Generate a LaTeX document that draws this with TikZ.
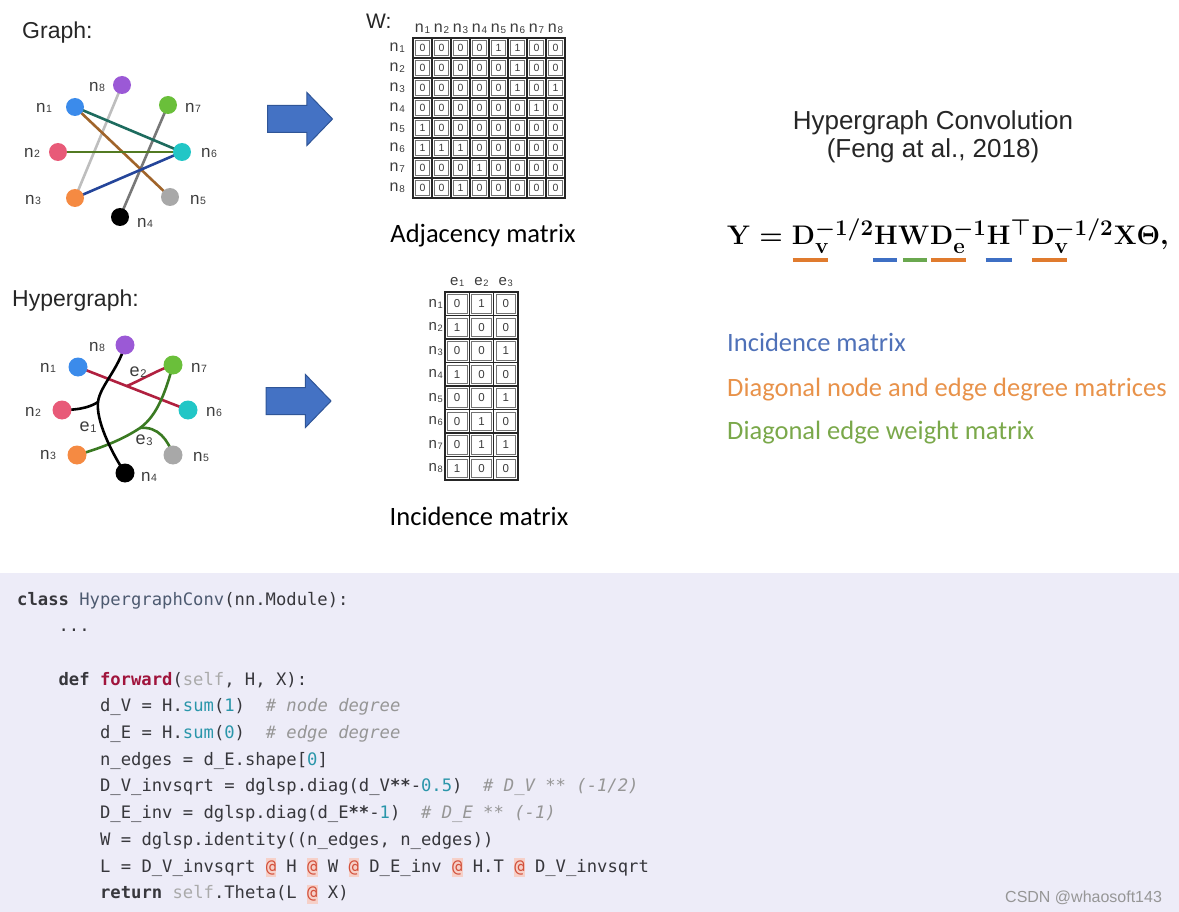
\documentclass[tikz,border=0pt]{standalone}
\usepackage[no-math]{fontspec}
\setmainfont{Liberation Sans}
\newfontfamily\calfont{Carlito}
\newfontfamily\codefont{DejaVu Sans Mono}
\usetikzlibrary{shapes.arrows,backgrounds}
\definecolor{codebg}{RGB}{237,236,248}
\definecolor{c1}{RGB}{59,139,235}
\definecolor{c2}{RGB}{232,90,120}
\definecolor{c3}{RGB}{245,138,66}
\definecolor{c4}{RGB}{0,0,0}
\definecolor{c5}{RGB}{168,168,168}
\definecolor{c6}{RGB}{34,198,198}
\definecolor{c7}{RGB}{106,191,58}
\definecolor{c8}{RGB}{155,89,214}
\definecolor{labgray}{RGB}{60,60,60}
\definecolor{eteal}{RGB}{29,107,94}
\definecolor{ebrown}{RGB}{160,100,42}
\definecolor{eolive}{RGB}{82,122,34}
\definecolor{eblue}{RGB}{36,69,154}
\definecolor{elight}{RGB}{190,190,190}
\definecolor{egray}{RGB}{120,120,120}
\definecolor{ered}{RGB}{176,32,63}
\definecolor{egreen}{RGB}{58,122,34}
\definecolor{arfill}{RGB}{68,114,196}
\definecolor{ardraw}{RGB}{47,85,151}
\definecolor{txblue}{RGB}{79,113,184}
\definecolor{txorange}{RGB}{232,146,74}
\definecolor{txgreen}{RGB}{122,168,74}
\definecolor{ulorange}{RGB}{224,123,46}
\definecolor{ulblue}{RGB}{62,111,196}
\definecolor{ulgreen}{RGB}{106,168,79}
\definecolor{codetx}{RGB}{55,55,60}
\definecolor{clsc}{RGB}{77,90,112}
\definecolor{fnc}{RGB}{160,20,60}
\definecolor{slfc}{RGB}{170,170,170}
\definecolor{tlc}{RGB}{42,150,170}
\definecolor{cmc}{RGB}{150,150,150}
\definecolor{atbg}{RGB}{246,208,200}
\definecolor{atfg}{RGB}{210,80,60}
\definecolor{wmc}{RGB}{150,150,150}
\newcommand\nsub[2]{#1\kern0.04em\raisebox{-0.04em}{\scalebox{0.62}{#2}}}
\newcommand\athl{{\setlength{\fboxsep}{0pt}\colorbox{atbg}{\rule[-0.28em]{0pt}{1.08em}\textcolor{atfg}{@}}}}
\newcommand\fmx[1]{\scalebox{1.08}{$#1$}}
\begin{document}
\begin{tikzpicture}[x=1pt,y=-1pt,
  gn/.style={circle,minimum size=18pt,inner sep=0pt,fill=#1},
  hn/.style={circle,minimum size=19pt,inner sep=0pt,fill=#1},
  nlab/.style={font=\fontsize{17}{18}\selectfont,text=labgray,inner sep=0pt},
  elab/.style={font=\fontsize{18}{19}\selectfont,text=labgray,inner sep=0pt},
  gedge/.style={line width=2.6pt,draw=#1},
  hedge/.style={line width=2.6pt,draw=#1},
  barrow/.style={single arrow,fill=arfill,draw=ardraw,line width=1pt,minimum height=65pt,minimum width=52pt,single arrow head extend=13pt,single arrow tip angle=92,inner xsep=0pt,inner ysep=13pt},
  cellA/.style={draw=black!85,line width=1.4pt,minimum width=19pt,minimum height=20pt,inner sep=0pt,font=\fontsize{10.5}{11}\selectfont,text=labgray,
    path picture={\draw[line width=0.5pt,black!55] ([shift={(2.4pt,-2.4pt)}]path picture bounding box.north west) rectangle ([shift={(-2.4pt,2.4pt)}]path picture bounding box.south east);}},
  cellB/.style={cellA,minimum width=24.3pt,minimum height=23.5pt,font=\fontsize{11.5}{12}\selectfont},
  mlab/.style={font=\fontsize{16}{17}\selectfont,text=labgray,inner sep=0pt},
  slab/.style={font=\fontsize{15}{16}\selectfont,text=labgray,inner sep=0pt},
  captxt/.style={font=\calfont\fontsize{26.5}{30}\selectfont,inner sep=0pt,anchor=base},
  coltxt/.style={font=\calfont\fontsize{26.5}{30}\selectfont,inner sep=0pt,anchor=base west,text=#1},
  fm/.style={inner sep=0pt,anchor=base west,font=\fontsize{24.88}{30}\selectfont\boldmath},
  ul/.style={line width=3.5pt,draw=#1},
  code/.style={font=\codefont\fontsize{17.2}{20}\selectfont,text=codetx,inner sep=0pt,anchor=base west}
]
\useasboundingbox (0,0) rectangle (1179,912);

% ---------- headings ----------
\node[font=\fontsize{23}{26}\selectfont,text=black!85,inner sep=0pt,anchor=base west] (tgraph) at (22,39) {Graph:};
\node[font=\fontsize{23}{26}\selectfont,text=black!85,inner sep=0pt,anchor=base west] (thyper) at (12,307) {Hypergraph:};

% ---------- graph ----------
\node[gn=c8] (g8) at (122,85) {};
\node[gn=c1] (g1) at (75,107) {};
\node[gn=c7] (g7) at (168,105) {};
\node[gn=c2] (g2) at (58,152) {};
\node[gn=c6] (g6) at (182,152) {};
\node[gn=c3] (g3) at (75,198) {};
\node[gn=c5] (g5) at (170,197) {};
\node[gn=c4] (g4) at (120,217) {};
\node[nlab] (lg8) at (97,87) {\nsub{n}{8}};
\node[nlab] (lg1) at (44,108) {\nsub{n}{1}};
\node[nlab] (lg7) at (193,108) {\nsub{n}{7}};
\node[nlab] (lg2) at (32,153) {\nsub{n}{2}};
\node[nlab] (lg6) at (209,153) {\nsub{n}{6}};
\node[nlab] (lg3) at (33,200) {\nsub{n}{3}};
\node[nlab] (lg5) at (198,200) {\nsub{n}{5}};
\node[nlab] (lg4) at (145,223) {\nsub{n}{4}};

% ---------- hypergraph ----------
\node[hn=c8] (h8) at (125,345) {};
\node[hn=c1] (h1) at (78,367) {};
\node[hn=c7] (h7) at (173,365) {};
\node[hn=c2] (h2) at (62,410) {};
\node[hn=c6] (h6) at (188,410) {};
\node[hn=c3] (h3) at (77,455) {};
\node[hn=c5] (h5) at (173,455) {};
\node[hn=c4] (h4) at (125,473) {};
\node[nlab] (lh8) at (97,347) {\nsub{n}{8}};
\node[nlab] (lh1) at (48,368) {\nsub{n}{1}};
\node[nlab] (lh7) at (199,368) {\nsub{n}{7}};
\node[nlab] (lh2) at (33,412) {\nsub{n}{2}};
\node[nlab] (lh6) at (214,412) {\nsub{n}{6}};
\node[nlab] (lh3) at (48,455) {\nsub{n}{3}};
\node[nlab] (lh5) at (201,457) {\nsub{n}{5}};
\node[nlab] (lh4) at (149,477) {\nsub{n}{4}};
\node[elab] (le2) at (138,372) {\nsub{e}{2}};
\node[elab] (le1) at (88,427) {\nsub{e}{1}};
\node[elab] (le3) at (144,440) {\nsub{e}{3}};
\coordinate (J1) at (98,402);
\coordinate (J2) at (127,386);
\coordinate (J3) at (140,428);

\begin{scope}[on background layer]
  \fill[codebg] (0,573) rectangle (1179,912);
  % graph edges
  \draw[gedge=elight] (g8.center) -- (g3.center);
  \draw[gedge=egray] (g7.center) -- (g4.center);
  \draw[gedge=eteal] (g1.center) -- (g6.center);
  \draw[gedge=ebrown] (g1.center) -- (g5.center);
  \draw[gedge=eolive] (g2.center) -- (g6.center);
  \draw[gedge=eblue] (g3.center) -- (g6.center);
  % hyperedges
  \draw[hedge=ered] (h1.center) -- (h6.center);
  \draw[hedge=ered] (J2) .. controls (145,378) and (158,370) .. (h7.center);
  \draw[hedge=egreen] (h3.center) .. controls (105,447) and (125,438) .. (J3) .. controls (158,415) and (166,390) .. (h7.center);
  \draw[hedge=egreen] (J3) .. controls (158,426) and (168,440) .. (h5.center);
  \draw[hedge=black] (h8.center) .. controls (118,370) and (100,386) .. (J1) .. controls (96,420) and (110,450) .. (h4.center);
  \draw[hedge=black] (h2.center) .. controls (82,410) and (92,406) .. (J1);
\end{scope}

% ---------- arrows ----------
\node[barrow] (ar1) at (293.5,119) {};
\node[barrow] (ar2) at (292,401) {};

% ---------- adjacency matrix ----------
\node[font=\fontsize{21}{23}\selectfont,text=black!85,inner sep=0pt,anchor=base west] (wlab) at (366,29) {W:};
\foreach \i in {1,...,8} {
  \node[mlab,anchor=base] (ah\i) at ({413+19*(\i-0.5)},33) {\nsub{n}{\i}};
  \node[mlab,anchor=east] (ar\i) at (405,{38+20*(\i-0.5)}) {\nsub{n}{\i}};
}
\foreach \row [count=\r] in {{0,0,0,0,1,1,0,0},{0,0,0,0,0,1,0,0},{0,0,0,0,0,1,0,1},{0,0,0,0,0,0,1,0},{1,0,0,0,0,0,0,0},{1,1,1,0,0,0,0,0},{0,0,0,1,0,0,0,0},{0,0,1,0,0,0,0,0}} {
  \foreach \v [count=\c] in \row {
    \node[cellA] (a-\r-\c) at ({413+19*(\c-0.5)},{38+20*(\r-0.5)}) {\v};
  }
}
\node[captxt] (adjcap) at (483,243) {Adjacency matrix};

% ---------- incidence matrix ----------
\foreach \i in {1,2,3} {
  \node[slab,anchor=base] (ih\i) at ({445+24.3*(\i-0.5)},286) {\nsub{e}{\i}};
}
\foreach \i in {1,...,8} {
  \node[slab,anchor=east] (ir\i) at (443,{292+23.5*(\i-0.5)}) {\nsub{n}{\i}};
}
\foreach \row [count=\r] in {{0,1,0},{1,0,0},{0,0,1},{1,0,0},{0,0,1},{0,1,0},{0,1,1},{1,0,0}} {
  \foreach \v [count=\c] in \row {
    \node[cellB] (b-\r-\c) at ({445+24.3*(\c-0.5)},{292+23.5*(\r-0.5)}) {\v};
  }
}
\node[captxt] (inccap) at (479,525) {Incidence matrix};

% ---------- right side ----------
\node[font=\fontsize{26}{30}\selectfont,text=black!85,inner sep=0pt,anchor=base] (t1) at (933,130) {Hypergraph Convolution};
\node[font=\fontsize{26}{30}\selectfont,text=black!85,inner sep=0pt,anchor=base] (t2) at (933,158) {(Feng at al., 2018)};

\node[fm] (fY) at (727,245) {\fmx{\mathbf{Y}={}}};
\node[fm] (fD1) at (fY.base east) {\fmx{\mathbf{D}_{\mathbf{v}}^{-1/2}}};
\node[fm] (fH1) at (fD1.base east) {\fmx{\mathbf{H}}};
\node[fm] (fW) at (fH1.base east) {\fmx{\mathbf{W}}};
\node[fm] (fD2) at (fW.base east) {\fmx{\mathbf{D}_{\mathbf{e}}^{-1}}};
\node[fm] (fH2) at (fD2.base east) {\fmx{\mathbf{H}^{\top}}};
\node[fm] (fD3) at (fH2.base east) {\fmx{\mathbf{D}_{\mathbf{v}}^{-1/2}}};
\node[fm] (fX) at (fD3.base east) {\fmx{\mathbf{X}\mathbf{\Theta},}};
\coordinate (uly) at (0,260);
\draw[ul=ulorange] ([xshift=1pt]fD1.base west |- uly) -- ++(35,0);
\draw[ul=ulblue] ([xshift=-13pt]fH1.base |- uly) -- ++(24,0);
\draw[ul=ulgreen] ([xshift=-11pt]fW.base |- uly) -- ++(24,0);
\draw[ul=ulorange] ([xshift=1pt]fD2.base west |- uly) -- ++(35,0);
\draw[ul=ulblue] ([xshift=-1pt]fH2.base west |- uly) -- ++(26,0);
\draw[ul=ulorange] ([xshift=1pt]fD3.base west |- uly) -- ++(35,0);

\node[coltxt=txblue] (k1) at (727,352) {Incidence matrix};
\node[coltxt=txorange] (k2) at (727,396) {Diagonal node and edge degree matrices};
\node[coltxt=txgreen] (k3) at (727,439) {Diagonal edge weight matrix};

% ---------- code ----------
\node[code] (l1) at (17,605) {\textbf{class} \textcolor{clsc}{HypergraphConv}(nn.Module):};
\node[code] (l2) at (58.4,631.7) {...};
\node[code] (l4) at (58.4,685.1) {\textbf{def} \textcolor{fnc}{\textbf{forward}}(\textcolor{slfc}{self}, H, X):};
\node[code] (l5) at (99.9,711.8) {d\_V = H.\textcolor{tlc}{sum}(\textcolor{tlc}{1})~~\textcolor{cmc}{\itshape\#~node degree}};
\node[code] (l6) at (99.9,738.5) {d\_E = H.\textcolor{tlc}{sum}(\textcolor{tlc}{0})~~\textcolor{cmc}{\itshape\#~edge degree}};
\node[code] (l7) at (99.9,765.2) {n\_edges = d\_E.shape[\textcolor{tlc}{0}]};
\node[code] (l8) at (99.9,791.9) {D\_V\_invsqrt = dglsp.diag(d\_V\textbf{**}-\textcolor{tlc}{0.5})~~\textcolor{cmc}{\itshape\#~D\_V ** (-1/2)}};
\node[code] (l9) at (99.9,818.6) {D\_E\_inv = dglsp.diag(d\_E\textbf{**}-\textcolor{tlc}{1})~~\textcolor{cmc}{\itshape\#~D\_E ** (-1)}};
\node[code] (l10) at (99.9,845.3) {W = dglsp.identity((n\_edges, n\_edges))};
\node[code] (l11) at (99.9,872) {L = D\_V\_invsqrt \athl{} H \athl{} W \athl{} D\_E\_inv \athl{} H.T \athl{} D\_V\_invsqrt};
\node[code] (l12) at (99.9,898.7) {\textbf{return} \textcolor{slfc}{self}.Theta(L \athl{} X)};

\node[font=\fontsize{16}{18}\selectfont,text=wmc,inner sep=0pt,anchor=base west] (wm) at (1005,902) {CSDN @whaosoft143};
\end{tikzpicture}
\end{document}
